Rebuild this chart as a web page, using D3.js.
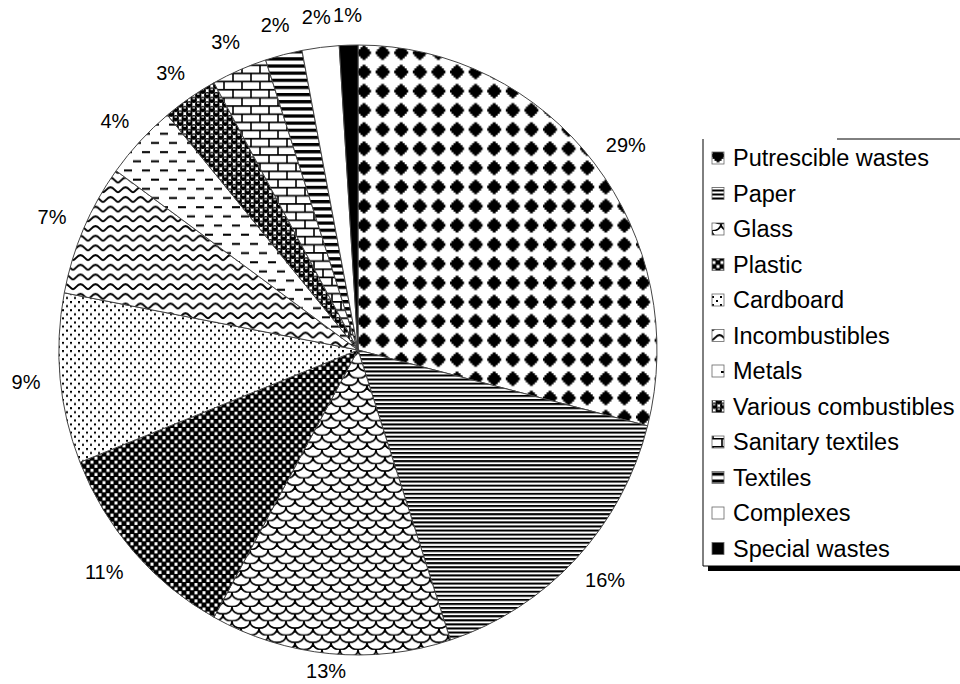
<!DOCTYPE html>
<html>
<head>
<meta charset="utf-8">
<script src="https://cdn.jsdelivr.net/npm/d3@7"></script>
<style>
  body { margin: 0; background: #fff; }
  svg { display: block; }
  text { font-family: "Liberation Sans", Arial, sans-serif; fill: #000; }
</style>
</head>
<body>
<svg id="chart" width="960" height="684"></svg>
<script>
// Waste composition (share of total mass, %)
const categories = [
  "Putrescible wastes", "Paper", "Glass", "Plastic", "Cardboard", "Incombustibles",
  "Metals", "Various combustibles", "Sanitary textiles", "Textiles", "Complexes", "Special wastes"
];
const shares = [29, 16, 13, 11, 9, 7, 4, 3, 3, 2, 2, 1];
const fillKeys = [
  "putrescible", "paper", "glass", "plastic", "cardboard", "incombustibles",
  "metals", "various", "sanitary", "textiles", "complexes", "special"
];

const svg = d3.select("#chart");
const defs = svg.append("defs");

// ---- hatch / texture fills -------------------------------------------------
function pattern(id, w, h, bg) {
  const p = defs.append("pattern")
    .attr("id", id).attr("patternUnits", "userSpaceOnUse")
    .attr("width", w).attr("height", h);
  p.append("rect").attr("width", w).attr("height", h).attr("fill", bg);
  return p;
}

// stepped diamonds on a square grid
{
  const p = pattern("putrescible", 18.6, 18.8, "#fff");
  const s = [[-1.5,-7],[1.5,-7],[1.5,-5.5],[3.5,-5.5],[3.5,-3.5],[5.5,-3.5],[5.5,-1.5],[7,-1.5],[7,1.5],[5.5,1.5],[5.5,3.5],[3.5,3.5],[3.5,5.5],[1.5,5.5],[1.5,7],
             [-1.5,7],[-1.5,5.5],[-3.5,5.5],[-3.5,3.5],[-5.5,3.5],[-5.5,1.5],[-7,1.5],[-7,-1.5],[-5.5,-1.5],[-5.5,-3.5],[-3.5,-3.5],[-3.5,-5.5],[-1.5,-5.5]];
  p.append("path").attr("d", "M" + s.map(q => [q[0] + 6.0, q[1] + 9.4].join(",")).join("L") + "Z").attr("fill", "#000");
  p.append("path").attr("d", "M" + s.map(q => [q[0] + 6.0 + 18.6, q[1] + 9.4].join(",")).join("L") + "Z").attr("fill", "#000");
}
// fine horizontal lines
{
  const p = pattern("paper", 8, 4, "#fff");
  p.append("rect").attr("y", 0).attr("width", 8).attr("height", 2).attr("fill", "#000");
}
// fish scales
{
  const p = pattern("glass", 18, 14, "#fff");
  p.append("path")
    .attr("d", "M0,0 C0,9 18,9 18,0 M-9,7 C-9,16 9,16 9,7 M9,7 C9,16 27,16 27,7")
    .attr("fill", "none").attr("stroke", "#000").attr("stroke-width", 1.6);
}
// black with staggered white squares
{
  const p = pattern("plastic", 8, 8, "#000");
  p.append("rect").attr("x", 0.5).attr("y", 0.5).attr("width", 3).attr("height", 3).attr("fill", "#fff");
  p.append("rect").attr("x", 4.5).attr("y", 4.5).attr("width", 3).attr("height", 3).attr("fill", "#fff");
}
// staggered dots
{
  const p = pattern("cardboard", 8, 8, "#fff");
  p.append("rect").attr("x", 0).attr("y", 0).attr("width", 2).attr("height", 2).attr("fill", "#000");
  p.append("rect").attr("x", 4).attr("y", 4).attr("width", 2).attr("height", 2).attr("fill", "#000");
}
// waves
{
  const p = pattern("incombustibles", 15, 9.5, "#fff");
  p.append("path")
    .attr("d", "M-0.5,7 C2.5,7 4,2 7.5,2 C11,2 12.5,7 15.5,7")
    .attr("fill", "none").attr("stroke", "#000").attr("stroke-width", 2);
}
// staggered short dashes
{
  const p = pattern("metals", 18, 18, "#fff");
  p.append("rect").attr("x", 0).attr("y", 3).attr("width", 8).attr("height", 2).attr("fill", "#000");
  p.append("rect").attr("x", 9).attr("y", 12).attr("width", 8).attr("height", 2).attr("fill", "#000");
}
// beads
{
  const p = pattern("various", 9, 9, "#fff");
  [[2.25, 2.25], [6.75, 6.75], [6.75 - 9, 6.75], [2.25 + 9, 2.25], [6.75, 6.75 - 9], [2.25, 2.25 + 9]].forEach(c => {
    p.append("circle").attr("cx", c[0]).attr("cy", c[1]).attr("r", 3.2).attr("fill", "#000");
    p.append("rect").attr("x", c[0] - 1.2).attr("y", c[1] - 1.8).attr("width", 2.4).attr("height", 1.2).attr("fill", "#fff");
  });
}
// bricks
{
  const p = pattern("sanitary", 18, 16, "#fff");
  p.append("path")
    .attr("d", "M0,0.75 H18 M0,8.75 H18 M1,0 V8 M10,8 V16")
    .attr("fill", "none").attr("stroke", "#000").attr("stroke-width", 1.6);
}
// bold horizontal stripes
{
  const p = pattern("textiles", 8, 7, "#fff");
  p.append("rect").attr("y", 0).attr("width", 8).attr("height", 3.2).attr("fill", "#000");
}
pattern("complexes", 4, 4, "#fff");
pattern("special", 4, 4, "#000");

// ---- pie ------------------------------------------------------------------
const cx = 358, cy = 350, r = 299, ky = 1.02;

const pie = d3.pie().sort(null).value(d => d.value);
const arcs = pie(categories.map((c, i) => ({ name: c, value: shares[i], key: fillKeys[i] })));
const arc = d3.arc().innerRadius(0).outerRadius(r);

const g = svg.append("g").attr("transform", `translate(${cx},${cy}) scale(1,${ky})`);
g.selectAll("path.slice")
  .data(arcs)
  .join("path")
  .attr("class", "slice")
  .attr("d", arc)
  .attr("fill", d => `url(#${d.data.key})`)
  .attr("stroke", "#444")
  .attr("stroke-width", 1)
  .attr("vector-effect", "non-scaling-stroke");

// percentage labels set just outside the rim, kept inside the canvas
const fmt = d3.format(".0%");
const labelGap = 20, labelH = 20;
const lab = svg.append("g").attr("transform", `translate(${cx},${cy})`);
lab.selectAll("text")
  .data(arcs)
  .join("text")
  .attr("font-size", 20)
  .attr("text-anchor", "middle")
  .attr("dy", "0.36em")
  .text(d => fmt(d.data.value / 100))
  .each(function (d) {
    const a = (d.startAngle + d.endAngle) / 2;
    const w = this.getComputedTextLength();
    const R = r + labelGap;
    const x = Math.sin(a) * (R + w / 2);
    let y = -Math.cos(a) * (R * ky + labelH / 2);
    y = Math.min(y, 684 - cy - 13);
    d3.select(this).attr("x", x).attr("y", y);
  });

// ---- legend ----------------------------------------------------------------
const lx = 703, ly = 139, lw = 275, lh = 427, rowH = 35.5;
const legend = svg.append("g");
legend.append("rect").attr("x", lx + 5).attr("y", ly + 5).attr("width", lw).attr("height", lh).attr("fill", "#000");
legend.append("rect").attr("x", lx).attr("y", ly).attr("width", lw).attr("height", lh).attr("fill", "#fff");
legend.append("path")
  .attr("d", `M${lx + 134},${ly} H${lx + lw} V${ly + lh} H${lx} V${ly}`)
  .attr("fill", "none").attr("stroke", "#000").attr("stroke-width", 1);

// each key's group origin sits a little above the swatch so the fill tile is anchored there
const row = legend.selectAll("g.item")
  .data(arcs)
  .join("g")
  .attr("class", "item")
  .attr("transform", (d, i) => `translate(${lx + 9},${ly + 7 + i * rowH})`);
row.append("rect")
  .attr("x", 0).attr("y", 6).attr("width", 12).attr("height", 12)
  .attr("fill", d => `url(#${d.data.key})`)
  .attr("stroke", "#666").attr("stroke-width", 0.8);
row.append("text")
  .attr("x", 21).attr("y", 12).attr("dy", "0.36em")
  .attr("font-size", 23.5)
  .text(d => d.data.name);
</script>
</body>
</html>
